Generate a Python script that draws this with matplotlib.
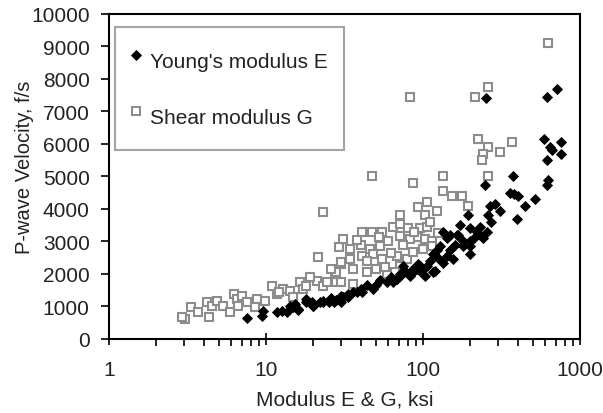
import matplotlib
matplotlib.use('Agg')
import matplotlib.pyplot as plt
from matplotlib.ticker import FixedLocator, LogLocator, NullFormatter
import numpy as np

plt.rcParams['font.family'] = ['Liberation Sans', 'DejaVu Sans']

# Young's modulus E (ksi) vs P-wave velocity (f/s)
e_mod = [250, 617, 713, 589, 644, 760, 760, 617, 660, 627, 617,
         374, 357, 380, 400, 516, 445, 395, 248, 267, 287, 308, 258, 194,
         172, 199, 220, 257, 240, 230, 134, 148, 167, 129, 148, 180, 199,
         142, 155, 199, 86, 96, 106, 115, 134, 164, 180, 199, 142, 122, 115,
         93, 100, 91, 103, 86, 82, 119, 75, 71, 71, 59, 53, 64, 68,
         44, 48, 41, 40, 36, 33, 31, 30, 28, 30, 25, 23, 20, 18, 16,
         7.5, 9.4, 9.5, 11.7, 12.6, 13.6, 14.2, 15.3, 16, 14.8,
         18, 19.6, 20, 22, 23, 27, 30, 31, 33,
         110, 125, 160, 210, 230, 95, 78, 62, 50, 38, 26, 270]
e_vel = [7400, 7450, 7700, 6150, 5900, 6050, 5700, 5500, 5800, 4900, 4750,
         5000, 4500, 4450, 4400, 4300, 4100, 3700, 4750, 4100, 4150, 3950, 3800, 3800,
         3500, 3400, 3300, 3300, 3100, 3200, 3300, 3200, 3200, 2850, 2750, 2850, 3000,
         2550, 2450, 2600, 2150, 2100, 2250, 2050, 2350, 3200, 3000, 2850, 3100, 2750, 2600,
         2300, 2150, 2150, 1950, 2050, 1950, 2100, 2250, 2000, 1950, 1750, 1800, 1750, 1850,
         1650, 1550, 1450, 1550, 1450, 1300, 1300, 1300, 1200, 1150, 1150, 1150, 1000, 1150, 900,
         650, 700, 850, 830, 860, 830, 1000, 1080, 920, 980,
         1230, 1140, 1000, 1140, 1170, 1140, 1320, 1300, 1380,
         2400, 2500, 2900, 3100, 3450, 2250, 2050, 1900, 1650, 1450, 1250, 3600]

# Shear modulus G (ksi) vs P-wave velocity (f/s)
g_mod = [3.05, 2.9, 3.3, 3.7, 4.3, 4.2, 4.5, 4.9, 5.3, 5.9, 6.2, 6.5, 7.0, 6.6,
         7.6, 8.8, 8.5, 9.8, 10.9, 11.7, 12.8, 14.2, 14.8, 16.4, 17.2, 21, 21.4,
         23, 23, 28, 30, 29, 31, 27.5,
         47, 86, 134, 258, 71, 134, 152, 177, 194, 93, 106, 122, 103,
         41, 47, 55, 64, 71, 80, 96, 106,
         34, 40, 46, 53, 60, 71, 82, 93, 103, 114,
         30, 34, 41, 48, 55, 68, 79, 86, 100, 114,
         28, 36, 44, 50, 59, 71, 18, 24.5, 30, 36,
         83, 215, 258, 224, 258, 240, 237, 308, 370, 625,
         38, 52, 62, 75, 88, 110, 125, 44, 57, 66, 12, 19, 26]
g_vel = [620, 680, 980, 830, 680, 1140, 1020, 1170, 1020, 830, 1380, 1230, 1320, 1020,
         1140, 1230, 980, 1170, 1630, 1380, 1540, 1480, 1290, 1750, 1540, 1780, 2520,
         3900, 1630, 1750, 2300, 2830, 3080, 2000,
         5000, 4800, 5000, 5000, 3800, 4550, 4400, 4400, 4100, 4050, 4200, 3950, 3800,
         3300, 3300, 3300, 3450, 3550, 3400, 3400, 3450,
         2770, 2900, 2770, 2850, 3000, 3170, 3080, 3140, 3080, 3000,
         2370, 2460, 2550, 2600, 2460, 2550, 2460, 2680, 2770, 2860,
         2060, 2150, 2060, 2150, 2000, 2250, 1630, 1750, 1750, 1690,
         7450, 7450, 7750, 6150, 5900, 5700, 5500, 5750, 6050, 9100,
         3050, 3150, 2650, 2900, 3300, 3600, 3250, 2400, 2200, 2050, 1450, 1900, 2150]

fig = plt.figure(figsize=(6.03, 4.14), dpi=100)
ax = fig.add_axes([0.181, 0.179, 0.781, 0.785])

txt = '#222222'
g_line, = ax.plot(g_mod, g_vel, linestyle='none', marker='s', markersize=5.2,
                  markerfacecolor='white', markeredgecolor='#8c8c8c',
                  markeredgewidth=1.5, label='Shear modulus G')
e_line, = ax.plot(e_mod, e_vel, linestyle='none', marker='D', markersize=4.7,
                  markerfacecolor='black', markeredgecolor='black',
                  markeredgewidth=0.6, label="Young's modulus E")

ax.set_xscale('log')
ax.set_xlim(1, 1000)
ax.set_ylim(0, 10000)
ax.xaxis.set_major_locator(FixedLocator([1, 10, 100, 1000]))
ax.set_xticklabels(['1', '10', '100', '1000'])
ax.xaxis.set_minor_locator(LogLocator(base=10, subs=np.arange(2, 10)))
ax.xaxis.set_minor_formatter(NullFormatter())
ax.set_yticks(np.arange(0, 10001, 1000))

ax.tick_params(axis='x', which='major', direction='inout', length=9, width=1.2,
               pad=11, labelsize=15, labelcolor=txt)
ax.tick_params(axis='x', which='minor', direction='out', length=5, width=1.2)
ax.tick_params(axis='y', direction='out', length=6, width=1.2, pad=8,
               labelsize=15, labelcolor=txt)
for s in ax.spines.values():
    s.set_linewidth(1.5)

ax.set_xlabel('Modulus E & G, ksi', fontsize=15, color=txt, labelpad=7)
ax.set_ylabel('P-wave Velocity, f/s', fontsize=14.5, color=txt, labelpad=-1)
ax.yaxis.set_label_coords(-0.16, 0.53)

leg = ax.legend(handles=[e_line, g_line], loc='upper left',
                bbox_to_anchor=(0.013, 0.96), fontsize=15, frameon=True,
                fancybox=False, edgecolor='#8c8c8c', labelspacing=1.0,
                handleheight=2.2, handlelength=0.4, handletextpad=0.48,
                borderpad=0.78, borderaxespad=0)
leg.get_frame().set_linewidth(1.5)
for t in leg.get_texts():
    t.set_color(txt)

fig.savefig('out.png', dpi=100)
